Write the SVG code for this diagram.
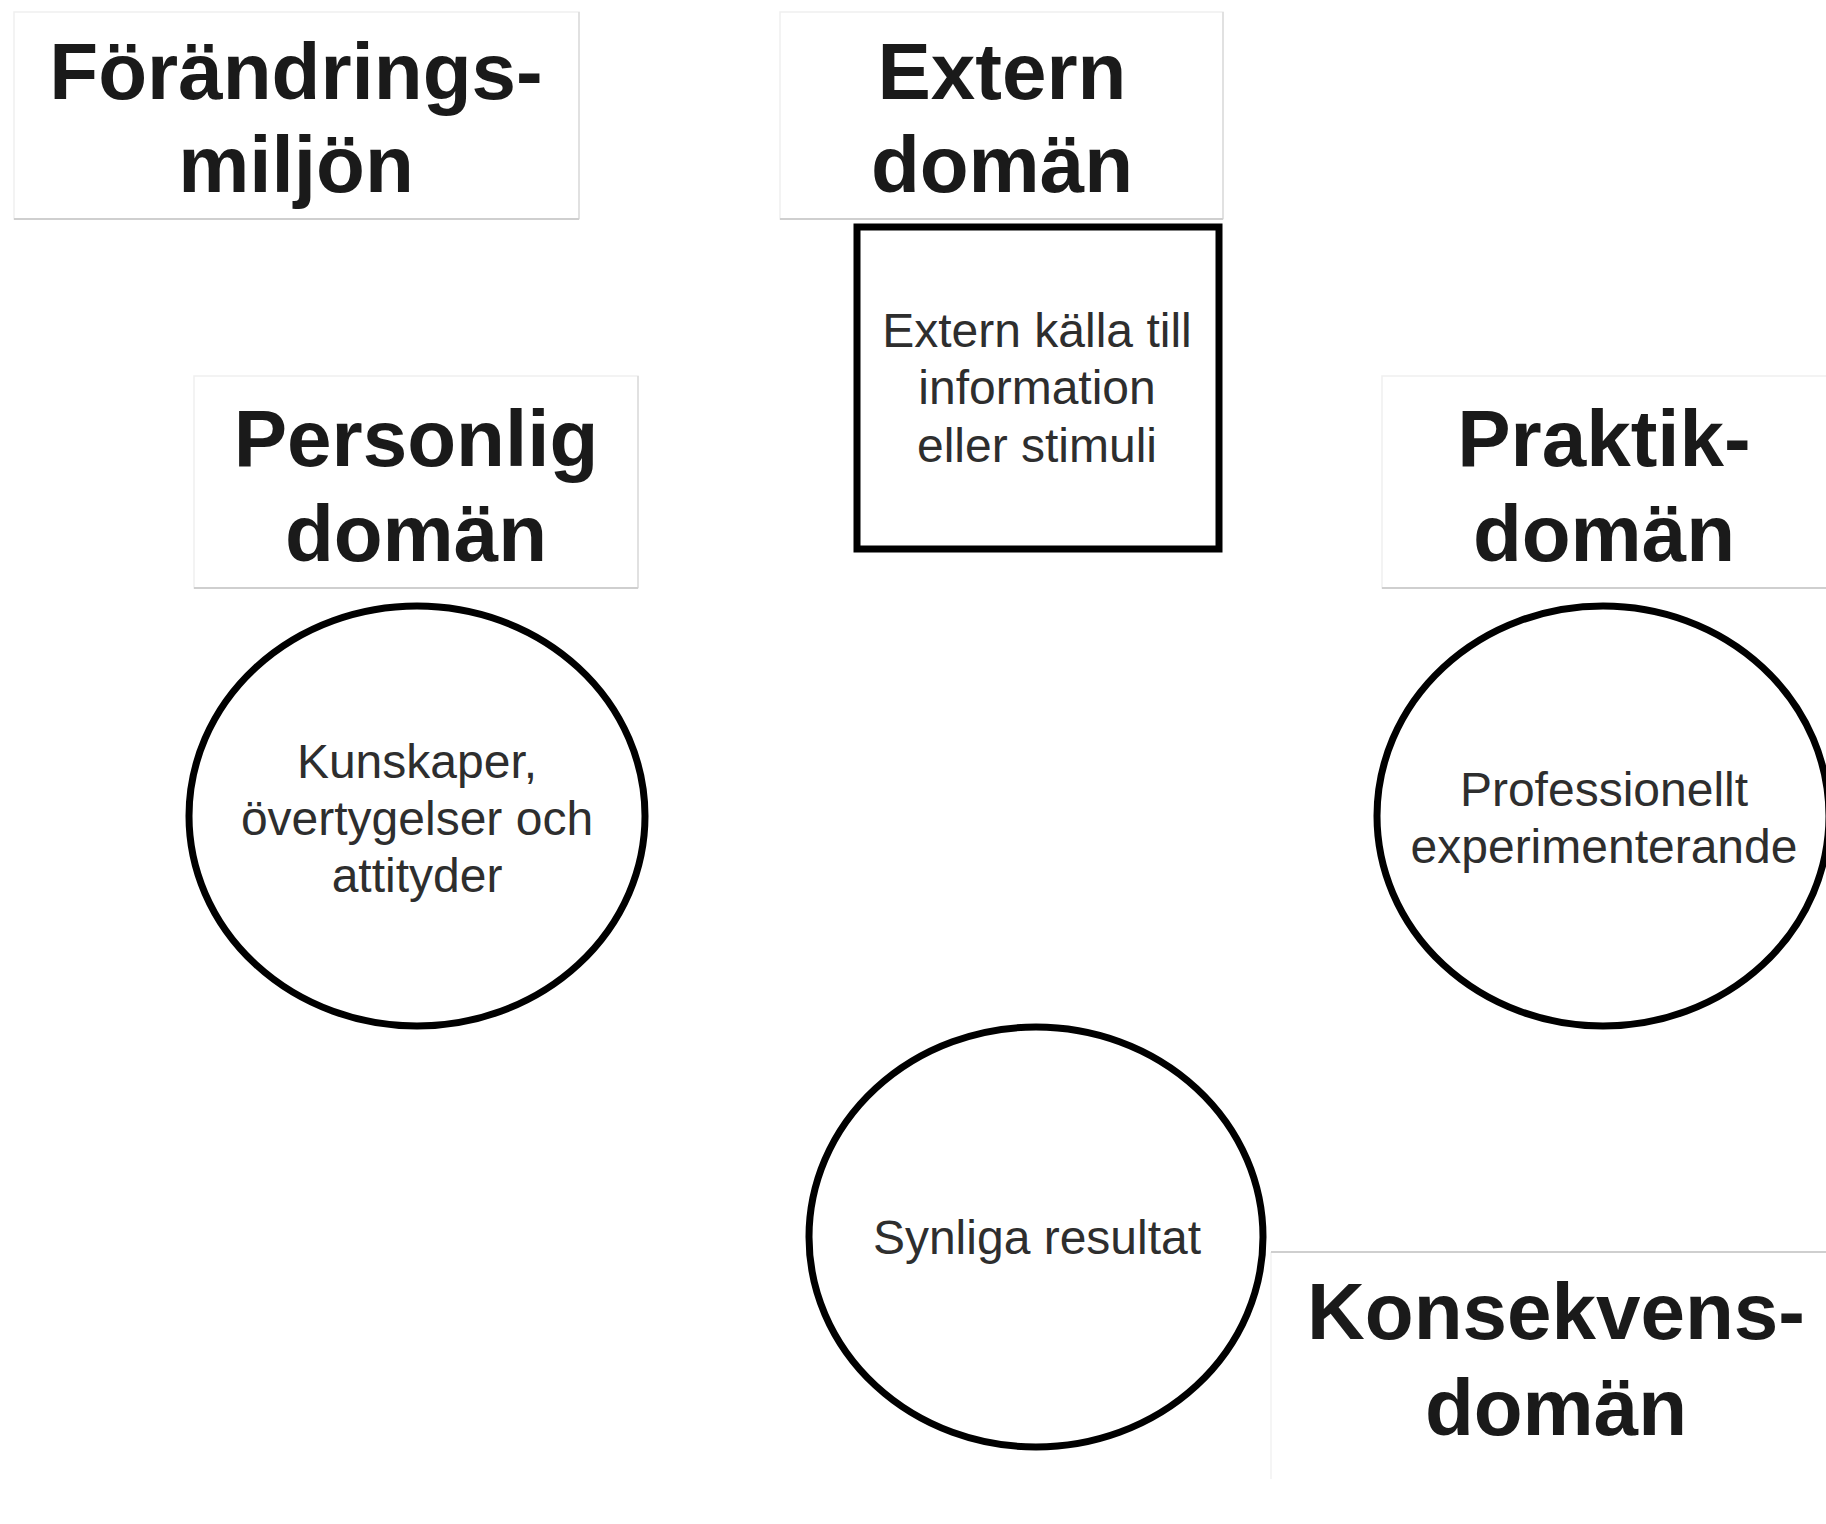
<svg xmlns="http://www.w3.org/2000/svg" width="1826" height="1524" viewBox="0 0 1826 1524">
<style>
.tbox{fill:#fff;stroke:#efefef;stroke-width:1.5}
.tshadow{stroke:#cfcfcf;stroke-width:2}
.title{font-family:"Liberation Sans",Arial,sans-serif;font-weight:bold;font-size:80px;fill:#1a1a1a;text-anchor:middle}
.body{font-family:"Liberation Sans",Arial,sans-serif;font-size:48px;fill:#2e2e2e;text-anchor:middle}
.shape{fill:#fff;stroke:#000;stroke-width:7}
</style>
<rect width="1826" height="1524" fill="#fff"/>
<g id="forandringsmiljon">
<rect class="tbox" x="14" y="12" width="565" height="207"/>
<line class="tshadow" x1="14" y1="219" x2="579" y2="219"/>
<line class="tshadow" x1="579" y1="12" x2="579" y2="219" stroke-opacity="0.5"/>
<text class="title" x="296" y="99">Förändrings-</text>
<text class="title" x="296" y="192">miljön</text>
</g>
<g id="extern-doman">
<rect class="tbox" x="780" y="12" width="443" height="207"/>
<line class="tshadow" x1="780" y1="219" x2="1223" y2="219"/>
<line class="tshadow" x1="1223" y1="12" x2="1223" y2="219" stroke-opacity="0.5"/>
<text class="title" x="1002" y="99">Extern</text>
<text class="title" x="1002" y="192">domän</text>
</g>
<g id="personlig-doman">
<rect class="tbox" x="194" y="376" width="444" height="212"/>
<line class="tshadow" x1="194" y1="588" x2="638" y2="588"/>
<line class="tshadow" x1="638" y1="376" x2="638" y2="588" stroke-opacity="0.5"/>
<text class="title" x="416" y="466">Personlig</text>
<text class="title" x="416" y="561">domän</text>
</g>
<g id="praktik-doman">
<rect class="tbox" x="1382" y="376" width="450" height="212"/>
<line class="tshadow" x1="1382" y1="588" x2="1826" y2="588"/>
<text class="title" x="1604" y="466">Praktik-</text>
<text class="title" x="1604" y="561">domän</text>
</g>
<g id="konsekvens-doman">
<line x1="1271" y1="1252" x2="1271" y2="1479" stroke="#f2f2f2" stroke-width="1.5"/>
<line class="tshadow" x1="1271" y1="1252" x2="1826" y2="1252"/>
<text class="title" x="1556" y="1339">Konsekvens-</text>
<text class="title" x="1556" y="1435">domän</text>
</g>
<g id="extern-kalla">
<rect class="shape" x="857" y="227" width="362" height="322"/>
<text class="body" x="1037" y="347">Extern källa till</text>
<text class="body" x="1037" y="404">information</text>
<text class="body" x="1037" y="462">eller stimuli</text>
</g>
<g id="kunskaper">
<ellipse class="shape" cx="417" cy="816" rx="228" ry="210"/>
<text class="body" x="417" y="778">Kunskaper,</text>
<text class="body" x="417" y="835">övertygelser och</text>
<text class="body" x="417" y="892">attityder</text>
</g>
<g id="professionellt">
<ellipse class="shape" cx="1603" cy="816" rx="226" ry="210"/>
<text class="body" x="1604" y="806">Professionellt</text>
<text class="body" x="1604" y="863">experimenterande</text>
</g>
<g id="synliga">
<ellipse class="shape" cx="1036" cy="1237" rx="227" ry="210"/>
<text class="body" x="1037" y="1254">Synliga resultat</text>
</g>
<g id="connectors"/>
</svg>
